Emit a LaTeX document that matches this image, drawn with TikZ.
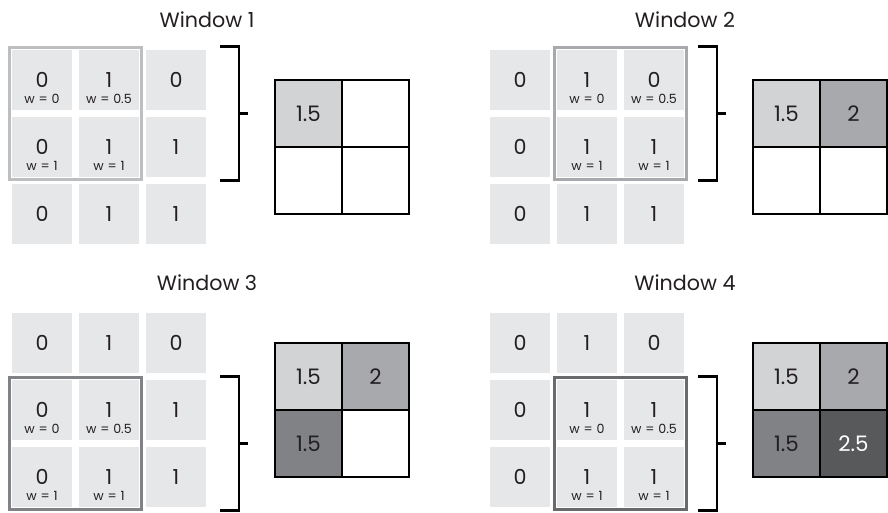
\documentclass[tikz,border=0pt]{standalone}
\usepackage{fontspec}
\setmainfont{Poppins}
\usepackage{xcolor}
\usepackage{tikz}
\usetikzlibrary{fit, calc}
\definecolor{inkgray}{RGB}{35,31,32}
\definecolor{cellgray}{RGB}{230,231,232}
\definecolor{shadeone}{RGB}{209,211,212}
\definecolor{shadetwo}{RGB}{167,169,172}
\definecolor{shadethree}{RGB}{128,130,133}
\definecolor{shadefour}{RGB}{88,89,91}

% one sliding-window panel: prefix, title, shift, window row, window col, frame colour, output cells
\newcommand{\slidewindow}[7]{%
  \begin{scope}[shift={#3}]
    \node[wintitle] (#1-title) at (207,20) {#2};
    \foreach \r/\c/\v in {0/0/0,0/1/1,0/2/0,1/0/0,1/1/1,1/2/1,2/0/0,2/1/1,2/2/1}
      \node[cell] (#1-\r\c) at (42+67*\c,80+67*\r) {\v};
    \foreach \dr/\dc/\w in {0/0/0,0/1/0.5,1/0/1,1/1/1} {
      \pgfmathtruncatemacro\rr{#4+\dr}
      \pgfmathtruncatemacro\cc{#5+\dc}
      \node[wlabel] (#1-w\rr\cc) at ([yshift=-14.5pt]#1-\rr\cc.center)
        {w\hspace{0.3em}=\hspace{0.3em}\w};
    }
    \pgfmathtruncatemacro\rb{#4+1}
    \pgfmathtruncatemacro\cb{#5+1}
    \node[winframe, draw=#6, fit=(#1-#4#5)(#1-\rb\cb)] (#1-frame) {};
    \draw[bracket] (220,0 |- #1-frame.north) -- (239,0 |- #1-frame.north)
      -- (239,0 |- #1-frame.south) -- (220,0 |- #1-frame.south);
    \draw[bracket] (239,0 |- #1-frame.center) -- (248,0 |- #1-frame.center);
    \foreach \r/\c/\f/\v in {#7}
      \node[outcell, fill=\f] (#1-o\r\c) at (308.5+67*\c,113.5+67*\r) {\v};
  \end{scope}}

\begin{document}
\begin{tikzpicture}[
   x=0.75pt, y=-0.75pt,
   every node/.style={text=inkgray},
   wintitle/.style={font=\fontsize{15.5}{18}\selectfont},
   cell/.style={fill=cellgray, minimum size=45pt, inner sep=0pt, outer sep=0pt,
                font=\fontsize{15.5}{18}\selectfont},
   wlabel/.style={font=\fontsize{9.5}{11}\selectfont, inner sep=0pt},
   winframe/.style={line width=1.8pt, inner sep=2pt},
   bracket/.style={line width=2.2pt, draw=black},
   outcell/.style={draw=black, line width=2.2pt, minimum size=50.25pt, inner sep=0pt,
                   font=\fontsize{16}{18}\selectfont}]

  \fill[white] (0,0) rectangle (888,512);
  \useasboundingbox (0,0) rectangle (888,512);

  \slidewindow{wa}{Window 1}{(0,0)}{0}{0}{shadeone!90!black}
    {0/0/shadeone/1.5, 0/1/white/, 1/0/white/, 1/1/white/}
  \slidewindow{wb}{Window 2}{(478,0)}{0}{1}{shadetwo}
    {0/0/shadeone/1.5, 0/1/shadetwo/2, 1/0/white/, 1/1/white/}
  \slidewindow{wc}{Window 3}{(0,263)}{1}{0}{shadethree}
    {0/0/shadeone/1.5, 0/1/shadetwo/2, 1/0/shadethree/1.5, 1/1/white/}
  \slidewindow{wd}{Window 4}{(478,263)}{1}{1}{shadefour!90!white}
    {0/0/shadeone/1.5, 0/1/shadetwo/2, 1/0/shadethree/1.5, 1/1/shadefour/{\textcolor{white}{2.5}}}
\end{tikzpicture}
\end{document}
